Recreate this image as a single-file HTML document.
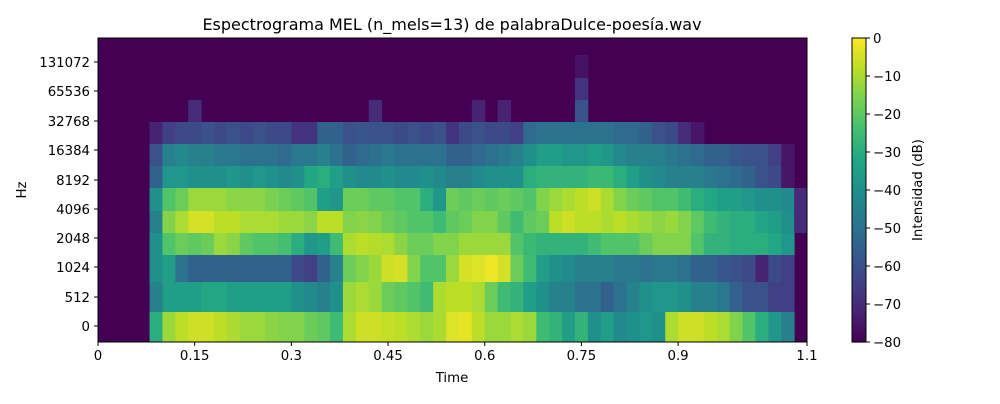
<!DOCTYPE html>
<html><head><meta charset="utf-8">
<style>
body{margin:0;background:#fff;font-family:"DejaVu Sans","Liberation Sans",sans-serif;}
svg text{font-family:"DejaVu Sans","Liberation Sans",sans-serif;}
</style></head>
<body>
<svg id="chart" width="1000" height="400" viewBox="0 0 1000 400" xmlns="http://www.w3.org/2000/svg">
<rect width="1000" height="400" fill="#fff"/>
<text x="452" y="30" font-size="16" text-anchor="middle">Espectrograma MEL (n_mels=13) de palabraDulce-poesía.wav</text>
<g id="heat"></g>
<g id="axes"></g>
<text x="452" y="382" font-size="13.3" text-anchor="middle">Time</text>
<text x="26" y="190" font-size="13.3" text-anchor="middle" transform="rotate(-90 26 190)">Hz</text>
<g id="cbar"></g>
<text x="922" y="190" font-size="13.3" text-anchor="middle" transform="rotate(-90 922 190)">Intensidad (dB)</text>
</svg>
<script>
// ---- data ----
const frameDur = 0.02;
const yTickLabels = ["0","512","1024","2048","4096","8192","16384","32768","65536","131072"];
const xTickValues = [0,0.15,0.3,0.45,0.6,0.75,0.9,1.1];
const xTickLabels = ["0","0.15","0.3","0.45","0.6","0.75","0.9","1.1"];
const cbarTicks = [0,-10,-20,-30,-40,-50,-60,-70,-80];
const Z = -80;
const band0 = [Z,Z,Z,Z,-30,-12,-8,-6,-6,-8,-10,-12,-12,-14,-15,-15,-18,-20,-25,-10,-6,-6,-7,-8,-10,-12,-10,-4,-3,-8,-12,-12,-10,-12,-25,-28,-35,-28,-40,-35,-42,-40,-38,-40,-10,-6,-6,-8,-10,-15,-22,-30,-38,-45,Z];
const band1 = [Z,Z,Z,Z,-45,-35,-35,-35,-32,-32,-35,-35,-35,-35,-35,-40,-42,-45,-40,-12,-10,-12,-18,-20,-22,-25,-10,-8,-8,-10,-18,-25,-28,-35,-40,-45,-45,-50,-50,-55,-50,-45,-40,-38,-38,-40,-45,-45,-48,-55,-60,-60,-65,-65,Z];
const band2 = [Z,Z,Z,Z,-40,-35,-50,-55,-55,-55,-55,-55,-55,-55,-55,-62,-65,-55,-45,-18,-15,-12,-6,-5,-15,-22,-22,-12,-5,-4,-2,-5,-18,-25,-35,-40,-42,-45,-45,-45,-48,-48,-50,-48,-48,-50,-55,-55,-58,-60,-62,-72,-62,-65,Z];
const band3 = [Z,Z,Z,Z,-40,-22,-18,-20,-18,-12,-14,-20,-22,-22,-24,-30,-38,-35,-25,-10,-8,-9,-10,-14,-18,-18,-15,-15,-12,-12,-12,-12,-22,-26,-28,-28,-28,-28,-25,-22,-22,-22,-18,-15,-15,-15,-22,-28,-28,-30,-30,-30,-32,-38,Z];
const band4 = [Z,Z,Z,Z,-45,-15,-10,-5,-5,-8,-8,-10,-10,-10,-12,-12,-14,-8,-8,-15,-14,-15,-18,-20,-22,-22,-25,-20,-18,-15,-15,-20,-25,-20,-18,-8,-6,-8,-8,-10,-8,-10,-12,-14,-12,-15,-20,-25,-28,-30,-30,-33,-35,-40,-70];
const band5 = [Z,Z,Z,Z,-40,-22,-18,-12,-12,-12,-14,-14,-14,-16,-18,-20,-22,-35,-38,-18,-18,-20,-20,-22,-22,-30,-38,-18,-20,-18,-20,-18,-20,-22,-15,-12,-10,-8,-6,-10,-15,-18,-20,-22,-22,-25,-30,-32,-35,-35,-38,-40,-40,-42,-70];
const band6 = [Z,Z,Z,Z,-55,-38,-38,-40,-40,-40,-38,-40,-38,-40,-42,-40,-32,-30,-35,-40,-42,-42,-40,-42,-42,-40,-42,-45,-45,-42,-40,-40,-40,-30,-28,-28,-28,-28,-26,-26,-30,-35,-40,-42,-45,-45,-45,-48,-50,-52,-55,-60,-62,-75,Z];
const band7 = [Z,Z,Z,Z,-60,-45,-42,-45,-45,-48,-48,-50,-50,-50,-52,-48,-48,-45,-50,-55,-52,-50,-48,-50,-50,-50,-50,-55,-55,-52,-50,-48,-45,-40,-35,-35,-38,-38,-35,-38,-42,-45,-45,-45,-48,-50,-52,-55,-55,-58,-60,-60,-65,-75,Z];
const band8 = [Z,Z,Z,Z,-72,-65,-62,-62,-60,-62,-60,-62,-60,-62,-62,-68,-68,-55,-55,-60,-58,-60,-60,-62,-60,-62,-60,-68,-62,-60,-62,-62,-65,-52,-50,-50,-50,-50,-50,-50,-52,-52,-55,-60,-62,-70,-75,Z,Z,Z,Z,Z,Z,Z,Z];
const band9 = [Z,Z,Z,Z,Z,Z,Z,-70,Z,Z,Z,Z,Z,Z,Z,Z,Z,Z,Z,Z,Z,-70,Z,Z,Z,Z,Z,Z,Z,-72,Z,-72,Z,Z,Z,Z,Z,-60,Z,Z,Z,Z,Z,Z,Z,Z,Z,Z,Z,Z,Z,Z,Z,Z,Z];
const band10 = [Z,Z,Z,Z,Z,Z,Z,Z,Z,Z,Z,Z,Z,Z,Z,Z,Z,Z,Z,Z,Z,Z,Z,Z,Z,Z,Z,Z,Z,Z,Z,Z,Z,Z,Z,Z,Z,-68,Z,Z,Z,Z,Z,Z,Z,Z,Z,Z,Z,Z,Z,Z,Z,Z,Z];
const band11 = [Z,Z,Z,Z,Z,Z,Z,Z,Z,Z,Z,Z,Z,Z,Z,Z,Z,Z,Z,Z,Z,Z,Z,Z,Z,Z,Z,Z,Z,Z,Z,Z,Z,Z,Z,Z,Z,-76,Z,Z,Z,Z,Z,Z,Z,Z,Z,Z,Z,Z,Z,Z,Z,Z,Z];
const band12 = [Z,Z,Z,Z,Z,Z,Z,Z,Z,Z,Z,Z,Z,Z,Z,Z,Z,Z,Z,Z,Z,Z,Z,Z,Z,Z,Z,Z,Z,Z,Z,Z,Z,Z,Z,Z,Z,Z,Z,Z,Z,Z,Z,Z,Z,Z,Z,Z,Z,Z,Z,Z,Z,Z,Z];
const bands = [band0,band1,band2,band3,band4,band5,band6,band7,band8,band9,band10,band11,band12];

// ---- layout ----
const X0=98, X1=807, Y0=38, Y1=342, TMAX=1.1;
const bandEdges=[342,312,282,255,233,211,188,166,144,122,100,78,55,38];
const yTickPos=[326,297,267,238,209,180,150,121,91,62];
const xScale=t=>X0+(t/TMAX)*(X1-X0);
const VIR=[[68,1,84],[72,35,116],[64,67,135],[52,94,141],[41,120,142],[32,144,140],[34,167,132],[68,190,112],[121,209,81],[189,222,38],[253,231,37]];
function viridis(v){let f=Math.max(0,Math.min(1,(v+80)/80))*(VIR.length-1);let i=Math.min(Math.floor(f),VIR.length-2),u=f-i;const c=VIR[i].map((a,k)=>Math.round(a+(VIR[i+1][k]-a)*u));return `rgb(${c})`;}
const NS="http://www.w3.org/2000/svg";
function mk(tag,attrs,parent){const e=document.createElementNS(NS,tag);for(const k in attrs)e.setAttribute(k,attrs[k]);parent.appendChild(e);return e;}

const heat=document.getElementById('heat');
mk('rect',{x:X0,y:Y0,width:X1-X0,height:Y1-Y0,fill:viridis(-80)},heat);
bands.forEach((row,b)=>{
  row.forEach((v,i)=>{
    if(v<=-80)return;
    const xa=xScale(i*frameDur), xb=Math.min(X1,xScale((i+1)*frameDur));
    const r=mk('rect',{x:xa,y:bandEdges[b+1],width:xb-xa+0.5,height:bandEdges[b]-bandEdges[b+1],fill:viridis(v)},heat);
    
    
  });
});

const axes=document.getElementById('axes');
mk('rect',{x:X0,y:Y0,width:X1-X0,height:Y1-Y0,fill:'none',stroke:'#000','stroke-width':1},axes);
xTickValues.forEach((t,i)=>{
  const x=xScale(t);
  mk('line',{x1:x,y1:Y1,x2:x,y2:Y1+4,stroke:'#000'},axes);
  const tx=mk('text',{x:x,y:Y1+18,'font-size':13.3,'text-anchor':'middle'},axes);
  tx.textContent=xTickLabels[i];
  
  
});
yTickLabels.forEach((l,i)=>{
  const y=yTickPos[i];
  mk('line',{x1:X0-4,y1:y,x2:X0,y2:y,stroke:'#000'},axes);
  const tx=mk('text',{x:X0-8,y:y+5,'font-size':13.3,'text-anchor':'end'},axes);
  tx.textContent=l;
  
  
});

const cb=document.getElementById('cbar');
const CX=852,CW=14;
for(let k=0;k<152;k++){
  const v=-80+80*k/152;
  const y=Y1-(k+1)*(Y1-Y0)/152;
  mk('rect',{x:CX,y:y,width:CW,height:(Y1-Y0)/152+0.6,fill:viridis(v)},cb);
}
mk('rect',{x:CX,y:Y0,width:CW,height:Y1-Y0,fill:'none',stroke:'#000'},cb);
cbarTicks.forEach(v=>{
  const y=Y0+(-v/80)*(Y1-Y0);
  mk('line',{x1:CX+CW,y1:y,x2:CX+CW+4,y2:y,stroke:'#000'},cb);
  const tx=mk('text',{x:CX+CW+7,y:y+5,'font-size':13.3},cb);
  tx.textContent=v===0?'0':'\u2212'+(-v);
  
  
});
</script>
</body></html>
